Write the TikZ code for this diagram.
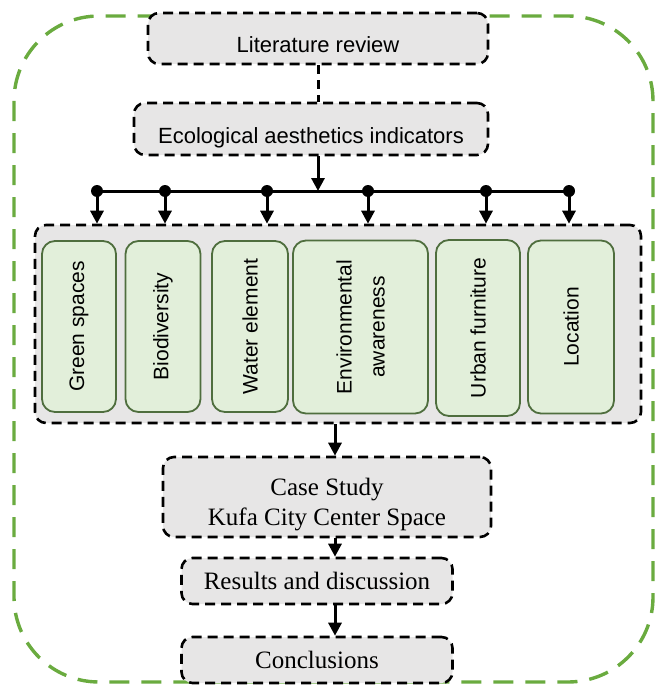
\documentclass[tikz,border=0pt]{standalone}
\usepackage{fontspec}
\setmainfont{Liberation Serif}
\setsansfont{Liberation Sans}
\usetikzlibrary{arrows.meta}
\definecolor{boxgrey}{HTML}{E7E6E6}
\definecolor{leaf}{HTML}{E2EFDA}
\definecolor{leafline}{HTML}{4F6E3E}
\definecolor{framegreen}{HTML}{6AAB3F}
\begin{document}
\begin{tikzpicture}[x=1pt,y=-1pt,
  stepbox/.style={draw=black, fill=boxgrey, line width=2.6pt, dash pattern=on 10pt off 6pt,
    rounded corners=11pt, inner sep=0pt, align=center},
  sanstext/.style={font=\sffamily\fontsize{22}{26}\selectfont, text height=28pt, text depth=0pt},
  seriftext/.style={font=\rmfamily\fontsize{25}{30}\selectfont},
  leafbox/.style={draw=leafline, fill=leaf, line width=1.8pt, rounded corners=13pt, rotate=90,
    inner sep=0pt, align=center, font=\sffamily\fontsize{21}{33}\selectfont},
  flow/.style={line width=3pt, -{Triangle[length=13pt,width=13pt]}},
  busdot/.style={circle, fill=black, inner sep=0pt, minimum size=12pt}]
\useasboundingbox (0,0) rectangle (657,685);

% outer green frame
\draw[framegreen, line width=3.4pt, dash pattern=on 20pt off 12pt, rounded corners=85pt]
  (14,16) rectangle (653,682);

% top boxes
\node[stepbox, sanstext, minimum width=340pt, minimum height=51pt] (lit) at (318,38.5) {Literature review};
\node[stepbox, sanstext, minimum width=354pt, minimum height=52pt] (eco) at (311,129) {Ecological aesthetics indicators};

% panel of indicators
\node[stepbox, minimum width=606pt, minimum height=198pt] (panel) at (338,324) {};

\node[leafbox, minimum width=171pt, minimum height=74pt] (g1) at (79,326.5) {Green spaces};
\node[leafbox, minimum width=171pt, minimum height=75pt] (g2) at (163,326.5) {Biodiversity};
\node[leafbox, minimum width=171pt, minimum height=76pt] (g3) at (250,326.5) {Water element};
\node[leafbox, minimum width=173pt, minimum height=135pt] (g4) at (360.5,327) {Environmental\\awareness};
\node[leafbox, minimum width=176pt, minimum height=84pt] (g5) at (478,328) {Urban furniture};
\node[leafbox, minimum width=173pt, minimum height=86pt] (g6) at (571,327) {Location};

% lower boxes
\node[stepbox, seriftext, minimum width=328pt, minimum height=80pt, text height=56pt, text depth=0pt] (case) at (327,497) {Case Study\\Kufa City Center Space};
\node[stepbox, seriftext, minimum width=271pt, minimum height=46pt] (res) at (317,581) {Results and discussion};
\node[stepbox, seriftext, minimum width=271pt, minimum height=46pt] (conc) at (317,660) {Conclusions};

% bus
\node[busdot] (d1) at (97,191) {};
\node[busdot] (d2) at (165,191) {};
\node[busdot] (d3) at (267,191) {};
\node[busdot] (d4) at (368,191) {};
\node[busdot] (d5) at (486,191) {};
\node[busdot] (d6) at (569,191) {};
\draw[line width=3pt] (d1.center) -- (d6.center);

% connectors
\draw[line width=3pt, dash pattern=on 9pt off 6pt] (lit.south) -- (lit.south |- eco.north);
\draw[flow] (lit.south |- eco.south) -- (lit.south |- d1.center);
\foreach \d in {d1,d2,d3,d4,d5,d6}
  \draw[flow] (\d.center) -- (\d |- panel.north);

\coordinate (lowx) at (335,0);
\draw[flow] (lowx |- panel.south) -- (lowx |- case.north);
\draw[flow] (lowx |- case.south) -- (lowx |- res.north);
\draw[flow] (lowx |- res.south) -- (lowx |- conc.north);
\end{tikzpicture}
\end{document}
